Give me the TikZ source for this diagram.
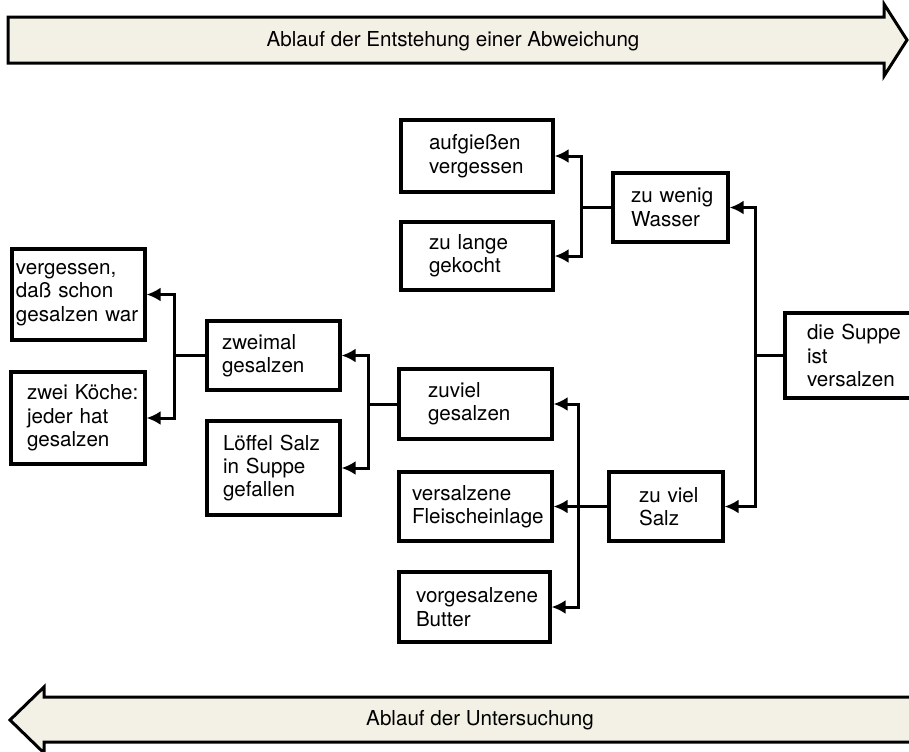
\documentclass[tikz,border=0pt]{standalone}
\usepackage{fontspec}
\setmainfont{TeX Gyre Heros}
\usepackage{xcolor}
\usepackage{tikz}
\usetikzlibrary{arrows.meta}
\definecolor{bandfill}{HTML}{F3F1E6}

\begin{document}
\begin{tikzpicture}[
x=0.5pt, y=-0.5pt,
font=\fontsize{10.3}{11.7}\selectfont,
box/.style n args={3}{draw, line width=1.6pt, fill=white, align=left, inner ysep=0pt, text width=#1, inner xsep=#2, minimum height=#3},
band/.style={draw, line width=1.5pt, fill=bandfill, line join=miter},
link/.style={line width=1.5pt},
arr/.style={link, -{Latex[length=7pt,width=7pt]}}
]
\useasboundingbox (0,0) rectangle (909,751);

\draw[band] (8,17) -- (884,17) -- (884,4) -- (907,40) -- (884,76) -- (884,63) -- (8,63) -- cycle;
\node (flowtop) at (453,41) {Ablauf der Entstehung einer Abweichung};
\draw[band] (915,697) -- (44,697) -- (44,687) -- (10,720) -- (44,753) -- (44,742) -- (915,742) -- cycle;
\node (flowbot) at (480,720) {Ablauf der Untersuchung};

\node[box={48pt}{14pt}{36pt}] (aufg) at (477,156) {aufgießen\\vergessen};
\node[box={48pt}{14pt}{34pt}] (lange) at (477,256) {zu~lange\\gekocht};
\node[box={39.5pt}{9pt}{34.5pt}] (wasser) at (670.5,207.5) {zu~wenig\\Wasser};
\node[box={62.5pt}{2pt}{45.5pt}] (verg) at (78.5,294.5) {vergessen,\\daß~schon\\gesalzen~war};
\node[box={51pt}{8pt}{46pt}] (koeche) at (78,418) {zwei~Köche:\\jeder~hat\\gesalzen};
\node[box={51.5pt}{7.5pt}{34.5pt}] (zweimal) at (273.5,355.5) {zweimal\\gesalzen};
\node[box={50.5pt}{8pt}{47pt}] (loeffel) at (273.5,468) {Löffel~Salz\\in~Suppe\\gefallen};
\node[box={47.5pt}{14.5pt}{35pt}] (zuviel) at (475.5,404) {zuviel\\gesalzen};
\node[box={63.5pt}{6.5pt}{34.5pt}] (versalzen) at (475.5,506.5) {versalzene\\Fleischeinlage};
\node[box={58.5pt}{8.5pt}{35pt}] (butter) at (474.5,607) {vorgesalzene\\Butter};
\node[box={27pt}{15pt}{34.5pt}] (salz) at (666,506.5) {zu~viel\\Salz};
\node[box={43pt}{11pt}{42.5pt}] (suppe) at (850,355.5) {die~Suppe\\ist\\versalzen};

\coordinate (jS) at ([xshift=-14pt]suppe.west);
\coordinate (jW) at ([xshift=-15pt]wasser.west);
\coordinate (jZ) at ([xshift=-14.5pt]salz.west);
\coordinate (jG) at ([xshift=-14.5pt]zuviel.west);
\coordinate (jM) at ([xshift=-15.5pt]zweimal.west);

\draw[link] (suppe.west) -- (jS);
\draw[arr] (jS) |- (wasser.east);
\draw[arr] (jS) |- (salz.east);
\draw[link] (wasser.west) -- (jW);
\draw[arr] (jW) |- (aufg.east);
\draw[arr] (jW) |- (lange.east);
\draw[arr] (salz.west) -- (versalzen.east);
\draw[arr] (jZ) |- (zuviel.east);
\draw[arr] (jZ) |- (butter.east);
\draw[link] (zuviel.west) -- (jG);
\draw[arr] (jG) |- (zweimal.east);
\draw[arr] (jG) |- (loeffel.east);
\draw[link] (zweimal.west) -- (jM);
\draw[arr] (jM) |- (verg.east);
\draw[arr] (jM) |- (koeche.east);
\end{tikzpicture}
\end{document}
